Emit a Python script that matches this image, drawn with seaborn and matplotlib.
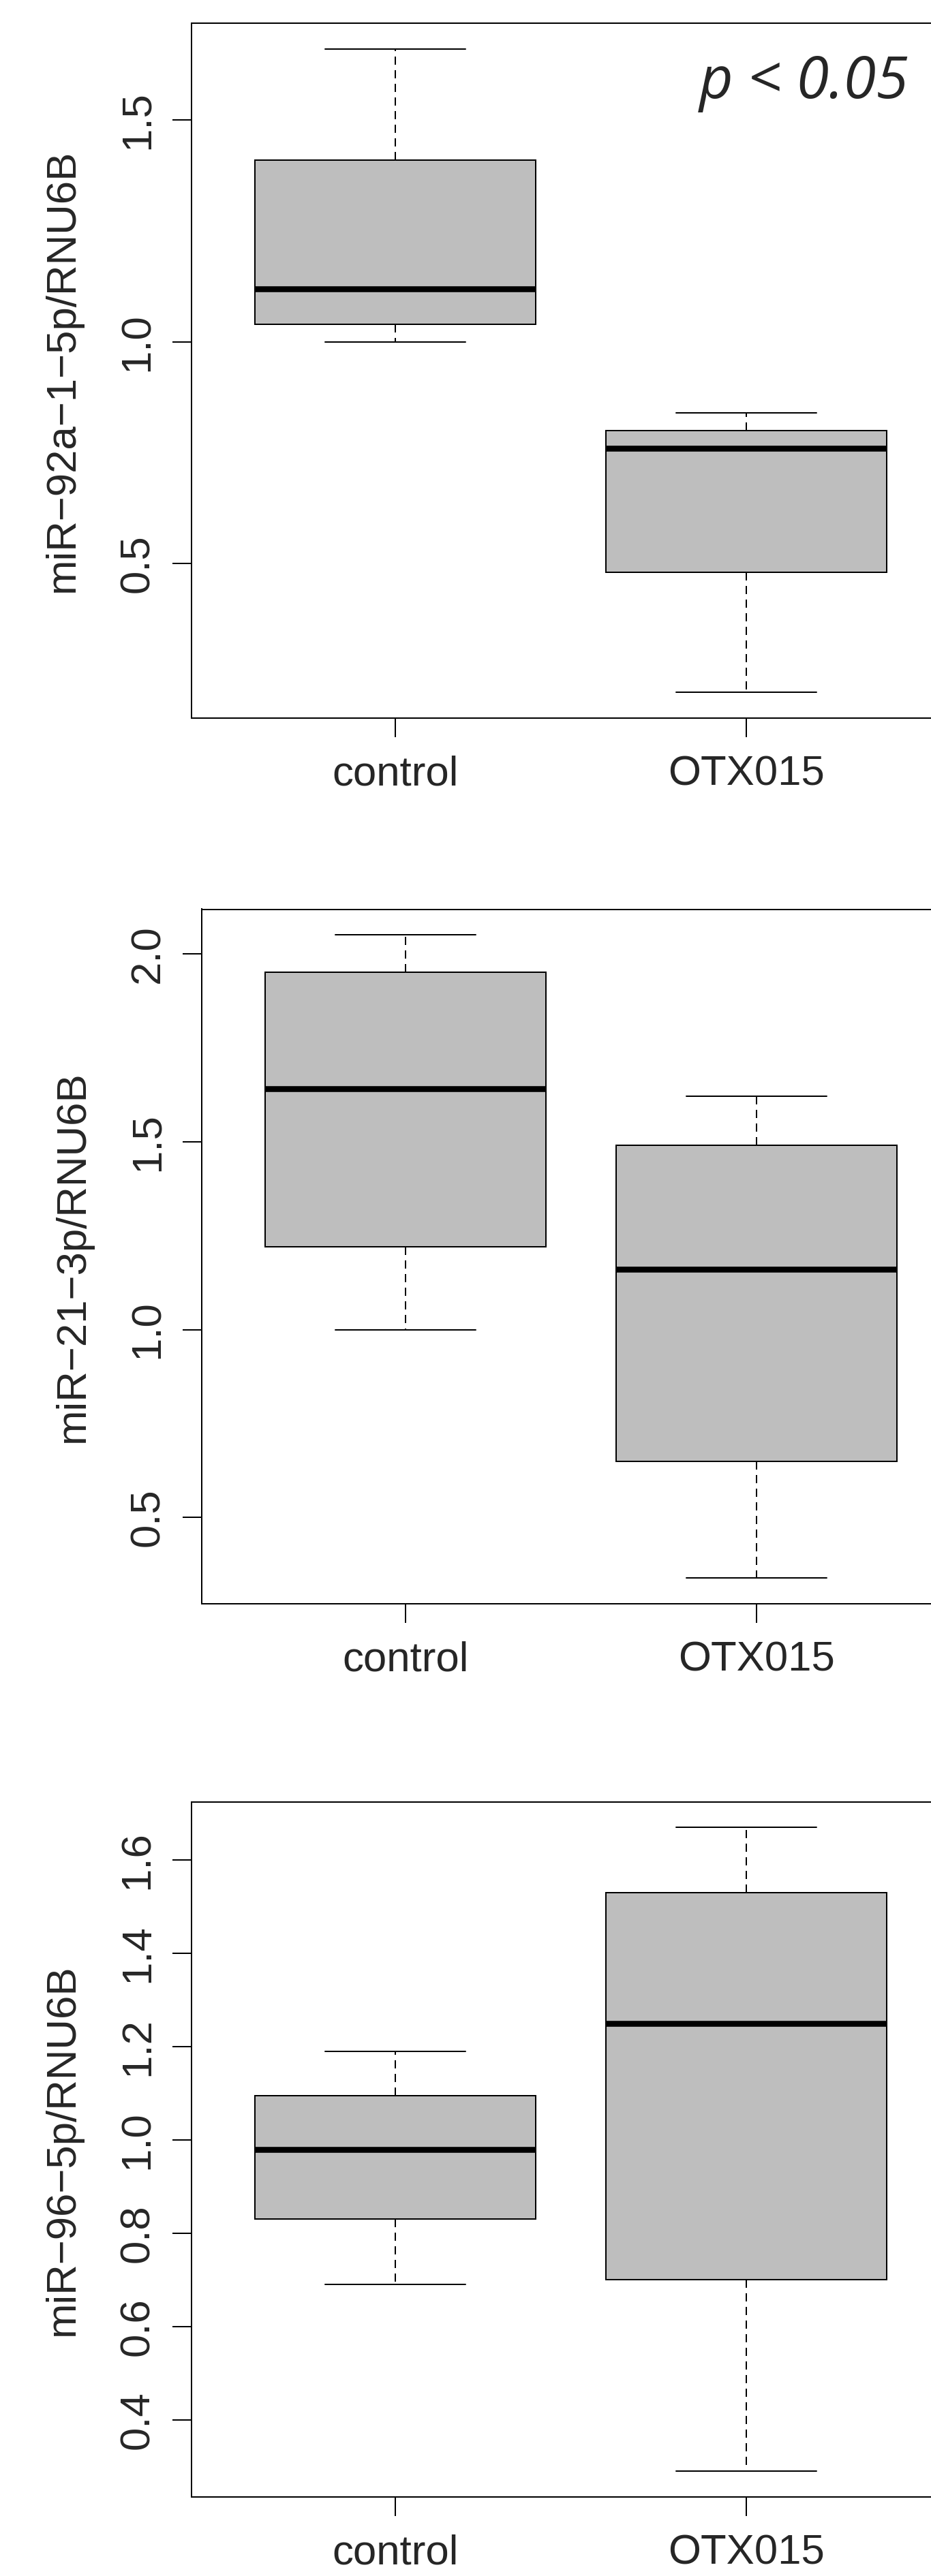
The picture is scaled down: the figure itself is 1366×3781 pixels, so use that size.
import matplotlib
matplotlib.use("Agg")
import matplotlib.pyplot as plt
import numpy as np
import pandas as pd
import seaborn as sns

# ---------------- data ----------------
groups = ["control", "OTX015"]

mir92_control = [1.00, 1.04, 1.12, 1.41, 1.66]
mir92_otx015 = [0.21, 0.48, 0.76, 0.80, 0.84]

mir21_control = [1.00, 1.22, 1.64, 1.95, 2.05]
mir21_otx015 = [0.34, 0.65, 1.16, 1.49, 1.62]

mir96_control = [0.69, 0.83, 0.98, 1.095, 1.19]
mir96_otx015 = [0.29, 0.70, 1.25, 1.53, 1.67]

ylabels = ["miR\u221292a\u22121\u22125p/RNU6B",
           "miR\u221221\u22123p/RNU6B",
           "miR\u221296\u22125p/RNU6B"]
yticks_list = [[0.5, 1.0, 1.5],
               [0.5, 1.0, 1.5, 2.0],
               [0.4, 0.6, 0.8, 1.0, 1.2, 1.4, 1.6]]
annotation = "p < 0.05"

# ---------------- style ----------------
sns.set_theme(style="ticks")
plt.rcParams["font.family"] = ["Liberation Sans", "DejaVu Sans"]

W, H = 1366, 3781
fig = plt.figure(figsize=(W / 100, H / 100), dpi=100)
fig.patch.set_facecolor("white")

# panel frames in pixels: left, right, top, bottom
frames = [(281, 1394, 34, 1054),
          (296, 1409, 1334.5, 2353.5),
          (281, 1394, 2644.5, 3665)]

series = [(mir92_control, mir92_otx015),
          (mir21_control, mir21_otx015),
          (mir96_control, mir96_otx015)]

FS = 44.5
LW = 1.44

for (l, r, t, b), (ctrl, otx), ylab, yt in zip(frames, series, ylabels, yticks_list):
    ax = fig.add_axes([l / W, 1 - b / H, (r - l) / W, (b - t) / H])
    df = pd.DataFrame({
        "group": [groups[0]] * len(ctrl) + [groups[1]] * len(otx),
        "value": list(ctrl) + list(otx),
    })
    sns.boxplot(data=df, x="group", y="value", order=groups, ax=ax,
                color="#BEBEBE", saturation=1, linecolor="black",
                linewidth=LW, width=0.8, whis=(0, 100), fliersize=0,
                medianprops={"linewidth": 6.2, "color": "black",
                             "solid_capstyle": "butt"},
                whiskerprops={"linestyle": (0, (6, 4))},
                capwidths=0.4)
    vals = np.array(df["value"])
    rng = vals.max() - vals.min()
    ax.set_ylim(vals.min() - 0.04 * rng, vals.max() + 0.04 * rng)
    ax.set_xlim(-0.58, 1.58)
    ax.set_xlabel("")
    ax.set_yticks(yt)
    ax.set_yticklabels([f"{v:.1f}" for v in yt], rotation=90, va="center",
                       fontsize=FS)
    ax.tick_params(axis="x", labelsize=FS, length=20.2, width=LW, pad=19.4,
                   color="black")
    ax.tick_params(axis="y", length=20.2, width=LW, pad=15.8, color="black")
    for sp in ax.spines.values():
        sp.set_visible(True)
        sp.set_linewidth(LW)
        sp.set_color("black")
    ax.set_ylabel(ylab, fontsize=FS)
    ax.yaxis.set_label_coords(-160 / (r - l), 0.5)
    ax.grid(False)
    ax.set_facecolor("white")

fig.text(1333 / W, 1 - 144 / H, annotation, fontsize=62, style="italic",
         family=["Open Sans", "DejaVu Sans"], ha="right", va="baseline")

fig.savefig("out.png", dpi=100, facecolor="white")
